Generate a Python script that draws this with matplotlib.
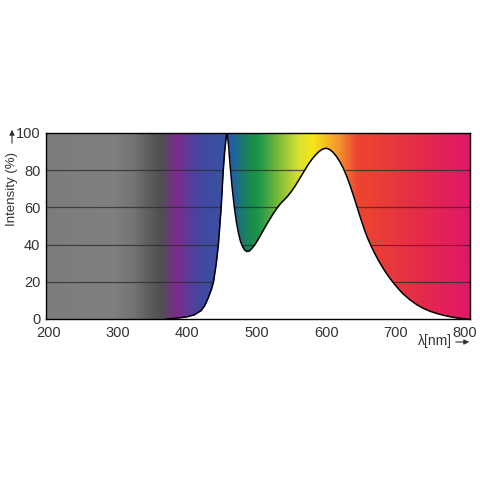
import numpy as np
import matplotlib
matplotlib.use("Agg")
import matplotlib.pyplot as plt
from matplotlib.colors import LinearSegmentedColormap, to_rgb

plt.rcParams['font.family'] = ['Liberation Sans', 'DejaVu Sans']

# Spectrum curve (wavelength nm, relative intensity %)
wavelength = [370, 380, 390, 400, 410, 420, 425, 430, 435, 438, 442, 445, 447, 449, 450.5,
              452, 454, 456, 457, 458, 460, 462, 465, 468, 471, 474, 477, 480, 483, 486,
              489, 492, 495, 498, 502, 506, 510, 515, 520, 525, 530, 535, 540, 545, 550,
              555, 560, 565, 570, 575, 580, 585, 590, 595, 600, 605, 610, 615, 620, 625,
              630, 635, 640, 645, 650, 655, 660, 665, 670, 675, 680, 685, 690, 695, 700,
              705, 710, 720, 730, 740, 750, 760, 770, 780, 790, 800, 805]
intensity = [0, 0.3, 0.7, 1.2, 2.2, 4.5, 7, 11, 16, 20, 30, 40, 50, 60, 70,
             80, 90, 97, 100, 99, 92, 82, 70, 60, 52, 46, 41.5, 38.8, 37, 36.3,
             36.5, 37.5, 38.8, 40.3, 42.7, 45.3, 48, 51.2, 54.3, 57.3, 60, 62.3, 64.2, 66.2, 68.6,
             71.3, 74.3, 77.4, 80.5, 83.5, 86.1, 88.3, 90.1, 91.4, 91.8, 91.2, 89.6, 87.3, 84.4, 80.8,
             76.4, 71.2, 65.6, 59.6, 53.7, 48.1, 43.2, 39, 35.2, 31.7, 28.5, 25.5, 22.8, 20.3, 18,
             15.8, 13.8, 10.5, 7.8, 5.7, 4.1, 2.9, 1.9, 1.1, 0.5, 0.15, 0]

# Background colour stops (wavelength nm, colour)
stop_nm = [197, 290, 320, 345, 362, 375, 385, 400, 420, 450, 465, 480, 495, 505, 530,
           560, 580, 600, 620, 645, 690, 740, 808]
stop_col = ['#7c7c7c', '#808080', '#757575', '#5c5c5c', '#505050', '#6a3a7a', '#7d2a8a',
            '#603a98', '#4048a0', '#3a52a2', '#2060a8', '#1a7a6a', '#1a8f48', '#20984a',
            '#78b83a', '#d5df30', '#f5e81a', '#f8c020', '#f59030', '#ee4530', '#e83a3a',
            '#e42a4a', '#e0186a']

x_ticks = [200, 300, 400, 500, 600, 700, 800]
y_ticks = [0, 20, 40, 60, 80, 100]
xmin, xmax = 197, 807

fig = plt.figure(figsize=(4.8, 4.8), dpi=100)
ax = fig.add_axes([46/480, 1 - 319/480, (470-46)/480, (319-133)/480])

pos = [(n - stop_nm[0]) / (stop_nm[-1] - stop_nm[0]) for n in stop_nm]
cmap = LinearSegmentedColormap.from_list('spec', list(zip(pos, [to_rgb(c) for c in stop_col])))
grad = np.linspace(0, 1, 600).reshape(1, -1)
ax.imshow(grad, cmap=cmap, aspect='auto', extent=[stop_nm[0], stop_nm[-1], 0, 100],
          interpolation='bilinear', zorder=0)

for yv in y_ticks[1:-1]:
    ax.axhline(yv, color='#2a2a2a', lw=0.9, alpha=0.75, zorder=1)

ax.fill_between(wavelength, intensity, 0, color='white', lw=0, zorder=2)
ax.plot(wavelength, intensity, color='black', lw=1.1, zorder=3, solid_joinstyle='round')

ax.set_xlim(xmin, xmax)
ax.set_ylim(0, 100)
ax.set_xticks(x_ticks)
ax.set_yticks(y_ticks)
ax.tick_params(length=0, labelsize=10.5, colors='#333333')
ax.tick_params(axis='x', pad=5)
ax.tick_params(axis='y', pad=4)
for s in ax.spines.values():
    s.set_color('black')
    s.set_linewidth(1.0)
    s.set_zorder(4)

# Axis labels with arrows
fig.text(12/480, 1 - 189/480, 'Intensity (%)', rotation=90, ha='center', va='center',
         fontsize=9.5, color='#333333')
fig.add_artist(matplotlib.patches.FancyArrowPatch((12/480, 1 - 146/480), (12/480, 1 - 127/480),
               transform=fig.transFigure, arrowstyle='-|>,head_length=3,head_width=1.5',
               color='#333333', lw=0.8))
fig.text(435/480, 1 - 341/480, 'λ[nm]', ha='center', va='center', fontsize=10, color='#333333')
fig.add_artist(matplotlib.patches.FancyArrowPatch((453/480, 1 - 342/480), (472/480, 1 - 342/480),
               transform=fig.transFigure, arrowstyle='-|>,head_length=3,head_width=1.5',
               color='#333333', lw=0.8))

fig.savefig('out.png', dpi=100, facecolor='white')
